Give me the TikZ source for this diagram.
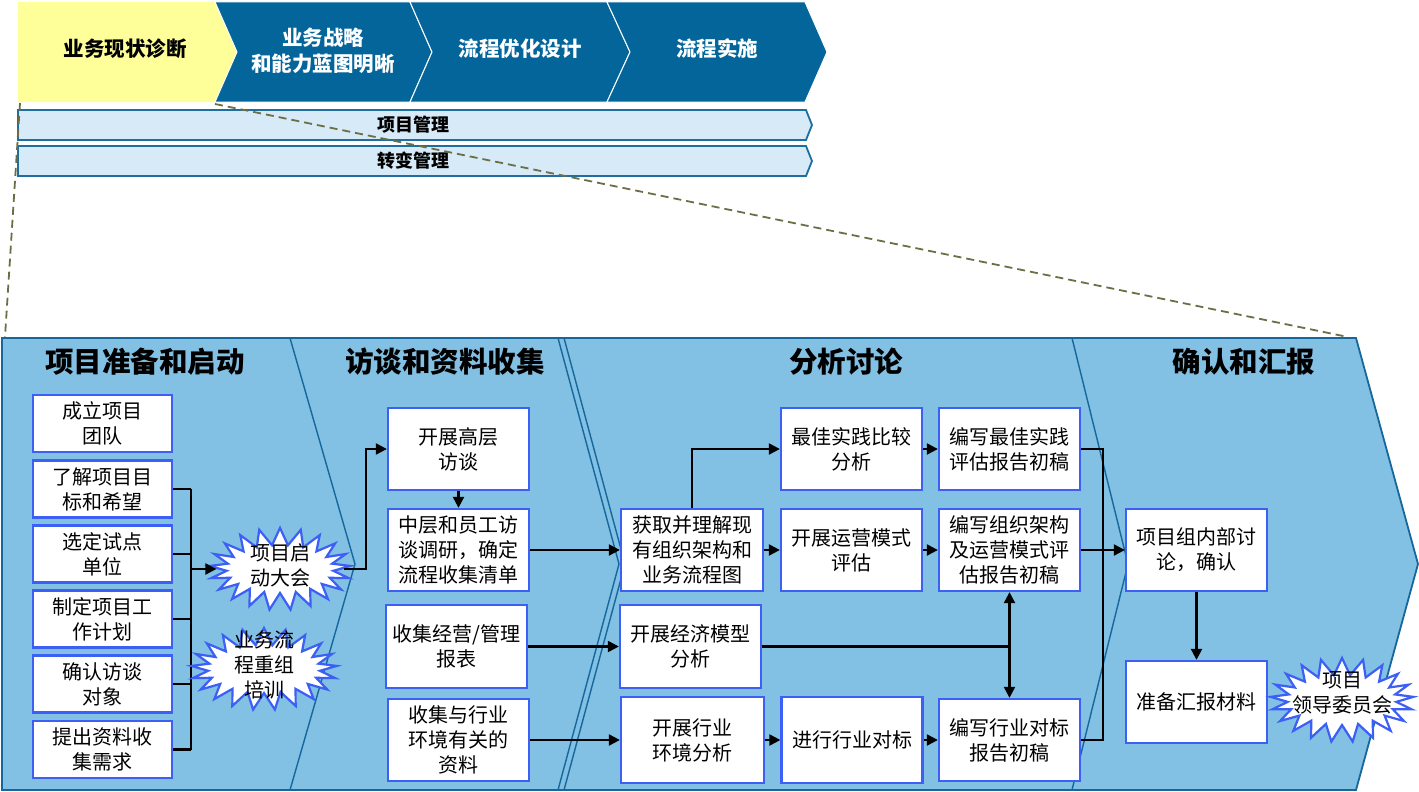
\documentclass[tikz,border=0pt]{standalone}
\usepackage{fontspec}
\setmainfont{Noto Sans CJK SC}
\usetikzlibrary{shapes.symbols,arrows.meta}
\definecolor{topblue}{RGB}{4,101,154}
\definecolor{yell}{RGB}{255,255,153}
\definecolor{barfill}{RGB}{214,234,247}
\definecolor{barline}{RGB}{30,110,160}
\definecolor{panel}{RGB}{130,192,228}
\definecolor{panelline}{RGB}{22,104,156}
\definecolor{boxline}{RGB}{60,95,245}
\definecolor{olive}{RGB}{110,110,70}
\newcommand\bursttext[2]{\raisebox{#1}[0pt][0pt]{\makebox[0pt]{\smash{\begin{tabular}{@{}c@{}}#2\end{tabular}}}}}
\tikzset{
  bx/.style={draw=boxline, line width=2.3pt, fill=white, align=center, inner sep=1pt,
    font=\fontsize{20}{25}\selectfont, minimum width=141pt, minimum height=82pt},
  bxs/.style={bx, minimum width=139pt, minimum height=57pt},
  burst/.style={starburst, starburst points=21, starburst point height=17pt, random starburst=0,
    draw=boxline, line width=2.2pt, fill=white, inner sep=0pt,
    font=\fontsize{20}{25}\selectfont},
  ln/.style={draw=black, line width=2.2pt},
  arr/.style={ln, -{Triangle[length=11pt,width=11pt]}},
  darr/.style={ln, {Triangle[length=11pt,width=11pt]}-{Triangle[length=11pt,width=11pt]}},
  ttl/.style={font=\bfseries\fontsize{28.5}{32}\selectfont},
  chev/.style={font=\bfseries\fontsize{20.5}{26}\selectfont, align=center},
  bartxt/.style={font=\bfseries\fontsize{18}{22}\selectfont},
  sep/.style={draw=panelline, line width=1.4pt},
}
\begin{document}
\begin{tikzpicture}[x=1pt,y=-1pt]
\useasboundingbox (0,0) rectangle (1419,792);
% top chevrons
\fill[yell] (18,2) -- (215,2) -- (237,52) -- (215,102) -- (18,102) -- cycle;
\filldraw[fill=topblue, draw=white, line width=1pt] (215,2) -- (410,2) -- (432,52) -- (410,102) -- (215,102) -- (237,52) -- cycle;
\filldraw[fill=topblue, draw=white, line width=1pt] (410,2) -- (607,2) -- (630,52) -- (607,102) -- (410,102) -- (432,52) -- cycle;
\filldraw[fill=topblue, draw=white, line width=1pt] (607,2) -- (805,2) -- (827,52) -- (805,102) -- (607,102) -- (630,52) -- cycle;
\node[chev] (c1) at (125,49) {业务现状诊断};
\node[chev, text=white] (c2) at (323,51) {业务战略\\和能力蓝图明晰};
\node[chev, text=white] (c3) at (520,49) {流程优化设计};
\node[chev, text=white] (c4) at (717,49) {流程实施};
% bars
\filldraw[fill=barfill, draw=barline, line width=1.8pt] (18,110) -- (806,110) -- (812,125) -- (806,140) -- (18,140) -- cycle;
\filldraw[fill=barfill, draw=barline, line width=1.8pt] (18,146) -- (806,146) -- (812,161) -- (806,176) -- (18,176) -- cycle;
\node[bartxt] (b1) at (413,125) {项目管理};
\node[bartxt] (b2) at (413,161) {转变管理};
% panel
\filldraw[fill=panel, draw=panelline, line width=1.8pt] (2,338) -- (1356,338) -- (1418,564) -- (1356,790) -- (2,790) -- cycle;
\draw[sep] (290,338) -- (355,564) -- (290,790);
\draw[sep] (558,338) -- (619,564) -- (558,790);
\draw[sep] (564,338) -- (625,564) -- (564,790);
\draw[sep] (1072,338) -- (1128,564) -- (1072,790);
% dashed zoom lines
\coordinate (yl) at (20,103);
\coordinate (yr) at (215,104);
\coordinate (pl) at (5,337);
\coordinate (pr) at (1348,337);
\draw[olive, line width=1.8pt, dash pattern=on 8pt off 5pt] (yl) -- (pl);
\draw[olive, line width=1.8pt, dash pattern=on 8pt off 5pt] (yr) -- (pr);
% section titles
\node[ttl] (t1) at (145,362) {项目准备和启动};
\node[ttl] (t2) at (445,362) {访谈和资料收集};
\node[ttl] (t3) at (846,362) {分析讨论};
\node[ttl] (t4) at (1244,362) {确认和汇报};
% column 1
\node[bxs] (p1) at (102.5,423.5) {成立项目\\团队};
\node[bxs] (p2) at (102.5,489) {了解项目目\\标和希望};
\node[bxs] (p3) at (102.5,554) {选定试点\\单位};
\node[bxs] (p4) at (102.5,619) {制定项目工\\作计划};
\node[bxs] (p5) at (102.5,684) {确认访谈\\对象};
\node[bxs] (p6) at (102.5,749.5) {提出资料收\\集需求};
\coordinate (bus) at (191,569);
\foreach \n in {p2,p3,p4,p5,p6} \draw[ln] (\n.east) -- (\n.east -| bus);
\draw[ln] (p2.east -| bus) -- (p6.east -| bus);
\node[burst, minimum width=141pt, minimum height=82pt] (s1) at (280,569) {\bursttext{-4pt}{项目启\\动大会}};
\node[burst, minimum width=146pt, minimum height=82pt] (s2) at (264,669) {\bursttext{-4pt}{业务流\\程重组\\培训}};
\draw[arr] (bus) -- (s1.west);
% column 2
\node[bx] (A) at (458.5,449) {开展高层\\访谈};
\node[bx] (B) at (458.5,550) {中层和员工访\\谈调研，确定\\流程收集清单};
\node[bx, minimum height=83pt] (C) at (456.5,646.5) {收集经营/管理\\报表};
\node[bx] (D) at (458.5,740) {收集与行业\\环境有关的\\资料};
\draw[arr] (s1.east) -- ++(22,0) |- (A.west);
\draw[arr] (A.south) -- (B.north);
% column 3
\node[bx, minimum width=142pt] (E) at (692,550) {获取并理解现\\有组织架构和\\业务流程图};
\node[bx, minimum height=83pt] (F) at (690.5,646.5) {开展经济模型\\分析};
\node[bx, minimum width=143pt, minimum height=86pt] (G) at (692.5,740) {开展行业\\环境分析};
\draw[arr] (B.east) -- (E.west);
\draw[arr] (C.east) -- (F.west);
\draw[arr] (D.east) -- (G.west);
% column 4
\node[bx] (H) at (851.5,449) {最佳实践比较\\分析};
\node[bx] (I) at (851.5,550) {开展运营模式\\评估};
\node[bx, minimum height=86pt] (J) at (852,740) {进行行业对标};
% column 5
\node[bx] (K) at (1009.5,449) {编写最佳实践\\评估报告初稿};
\node[bx] (L) at (1009.5,550) {编写组织架构\\及运营模式评\\估报告初稿};
\node[bx] (M) at (1009.5,740) {编写行业对标\\报告初稿};
\draw[arr] (E.north) |- (H.west);
\draw[arr] (E.east) -- (I.west);
\draw[arr] (H.east) -- (K.west);
\draw[arr] (I.east) -- (L.west);
\draw[arr] (G.east) -- (J.west);
\draw[arr] (J.east) -- (M.west);
\draw[ln] (F.east) -- (F.east -| L.south);
\draw[darr] (L.south) -- (M.north);
% column 6
\node[bx] (N) at (1196.5,550) {项目组内部讨\\论，确认};
\node[bx] (O) at (1196.5,702) {准备汇报材料};
\node[burst, minimum width=143pt, minimum height=84pt] (s3) at (1342,700) {\bursttext{0pt}{项目\\领导委员会}};
\coordinate (rbus) at (1103,550);
\draw[ln] (K.east) -| (rbus) |- (M.east);
\draw[arr] (L.east) -- (N.west);
\draw[arr] (N.south) -- (O.north);
\end{tikzpicture}
\end{document}
